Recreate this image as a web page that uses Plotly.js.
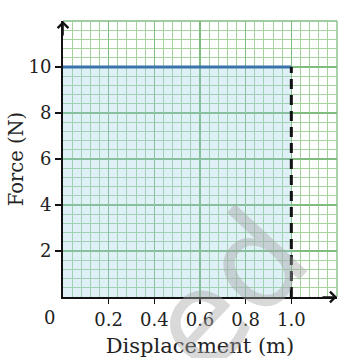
<!DOCTYPE html>
<html>
<head>
<meta charset="utf-8">
<script src="https://cdn.plot.ly/plotly-3.0.1.min.js"></script>
<style>html,body{margin:0;padding:0;background:#fff;}#chart{width:353px;height:358px;}</style>
</head>
<body>
<div id="chart"></div>
<script>
// Data
const displacement = [0, 1.0];
const force = [10, 10];
const dropX = [1.0, 1.0];
const dropY = [0, 10];
const xTickVals = [0.2, 0.4, 0.6, 0.8, 1.0];
const xTickText = ["0.2", "0.4", "0.6", "0.8", "1.0"];
const yTickVals = [2, 4, 6, 8, 10];
const yTickText = ["2", "4", "6", "8", "10"];
const xRange = [0, 1.2];
const yRange = [0, 12];

const serif = "DejaVu Serif, serif";
const ink = "#222";
const majorGrid = "#80bb80";
const minorGrid = "#a6d29e";

const traces = [
  {
    x: displacement, y: force, type: "scatter", mode: "lines",
    line: {color: "#3a74aa", width: 3},
    fill: "tozeroy", fillcolor: "rgba(150,205,230,0.3)",
    hoverinfo: "skip"
  },
  {
    x: dropX, y: dropY, type: "scatter", mode: "lines",
    line: {color: "#111", width: 3, dash: "10px,6px"},
    hoverinfo: "skip"
  }
];

const layout = {
  width: 353, height: 358,
  margin: {l: 63, r: 16, t: 21, b: 61},
  paper_bgcolor: "#fff", plot_bgcolor: "#fff",
  showlegend: false,
  font: {family: serif, color: ink, size: 18},
  xaxis: {
    range: xRange, tickmode: "array", tickvals: xTickVals, ticktext: xTickText,
    showgrid: true, gridcolor: majorGrid, gridwidth: 1.3,
    minor: {dtick: 0.04, tick0: 0, showgrid: true, gridcolor: minorGrid, gridwidth: 1, ticks: ""},
    zeroline: false, showline: true, linecolor: "#111", linewidth: 2,
    ticks: "outside", ticklen: 5, tickcolor: "#111", tickwidth: 1.5,
    tickfont: {family: serif, size: 18, color: ink},
    title: {text: "Displacement (m)", font: {family: serif, size: 21, color: ink}, standoff: 16},
    fixedrange: true
  },
  yaxis: {
    range: yRange, tickmode: "array", tickvals: yTickVals, ticktext: yTickText,
    showgrid: true, gridcolor: majorGrid, gridwidth: 1.3,
    minor: {dtick: 0.4, tick0: 0, showgrid: true, gridcolor: minorGrid, gridwidth: 1, ticks: ""},
    zeroline: false, showline: true, linecolor: "#111", linewidth: 2,
    ticks: "outside", ticklen: 6, tickcolor: "#111", tickwidth: 1.5,
    tickfont: {family: serif, size: 18, color: ink},
    title: {text: "Force (N)", font: {family: serif, size: 19.5, color: ink}, standoff: 0},
    fixedrange: true
  },
  shapes: [
    {type: "line", xref: "paper", yref: "paper", x0: 0, x1: 1, y0: 1, y1: 1, line: {color: majorGrid, width: 1.3}, layer: "below"},
    {type: "line", xref: "paper", yref: "paper", x0: 1, x1: 1, y0: 0, y1: 1, line: {color: majorGrid, width: 1.3}, layer: "below"}
  ],
  annotations: [
    {xref: "paper", yref: "paper", x: 0, y: 0, xanchor: "right", yanchor: "top", xshift: -6, yshift: -8,
     text: "0", showarrow: false, font: {family: serif, size: 18, color: ink}},
    {xref: "x", yref: "y", x: 0, y: 12, ax: 0, ay: 16, text: "", showarrow: true,
     arrowhead: 4, arrowsize: 1.3, arrowwidth: 1.6, arrowcolor: "#111", standoff: 0},
    {xref: "x", yref: "y", x: 1.2, y: 0, ax: -16, ay: 0, text: "", showarrow: true,
     arrowhead: 4, arrowsize: 1.3, arrowwidth: 1.6, arrowcolor: "#111", standoff: 0},
    {xref: "paper", yref: "paper", x: 0.6, y: 0.02, xanchor: "center", yanchor: "middle", text: "ed", showarrow: false,
     textangle: -47, font: {family: "DejaVu Sans, sans-serif", size: 130, color: "rgba(165,165,165,0.42)"}}
  ]
};

Plotly.newPlot("chart", traces, layout, {displayModeBar: false, staticPlot: true});
</script>
</body>
</html>
